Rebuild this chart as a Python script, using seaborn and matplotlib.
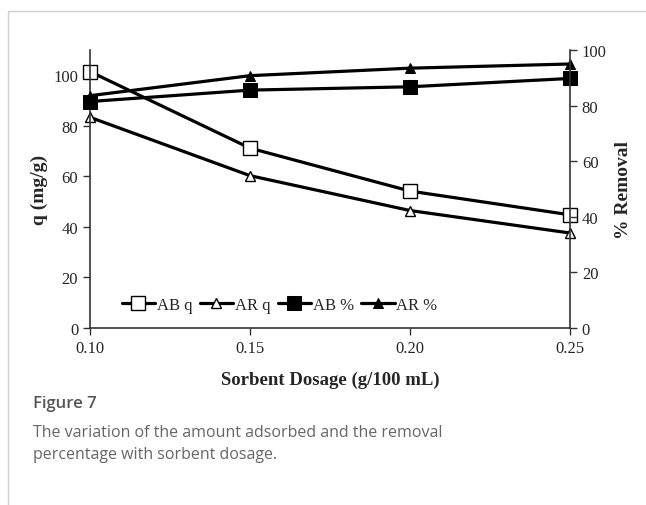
import seaborn as sns
import matplotlib.pyplot as plt
import pandas as pd
from matplotlib.lines import Line2D

# Data
dosage = [0.10, 0.15, 0.20, 0.25]
ab_q = [101.5, 71.2, 54.2, 44.8]
ar_q = [83.4, 60.3, 46.5, 37.6]
ab_pct = [81.5, 85.6, 86.8, 89.8]
ar_pct = [83.6, 90.8, 93.5, 95.0]

df = pd.DataFrame({'dosage': dosage, 'AB q': ab_q, 'AR q': ar_q,
                   'AB %': ab_pct, 'AR %': ar_pct})

sns.set_style('ticks')
plt.rcParams['font.family'] = ['Liberation Serif', 'DejaVu Serif']

fig = plt.figure(figsize=(6.46, 5.06), dpi=100)
ax = fig.add_axes([0.1393, 0.3498, 0.7431, 0.5492])
ax2 = ax.twinx()

lw = 2.3
common = dict(color='black', lw=lw, markeredgecolor='black', legend=False, clip_on=False)
sns.lineplot(x='dosage', y='AB q', data=df, ax=ax, marker='s', markersize=9.5,
             markerfacecolor='white', markeredgewidth=1.0, label='AB q', **common)
sns.lineplot(x='dosage', y='AR q', data=df, ax=ax, marker='^', markersize=7,
             markerfacecolor='white', markeredgewidth=1.0, label='AR q', **common)
sns.lineplot(x='dosage', y='AB %', data=df, ax=ax2, marker='s', markersize=9.5,
             markerfacecolor='black', label='AB %', **common)
sns.lineplot(x='dosage', y='AR %', data=df, ax=ax2, marker='^', markersize=7,
             markerfacecolor='black', label='AR %', **common)

ax.set_xlim(0.10, 0.25)
ax.set_ylim(0, 110)
ax2.set_ylim(0, 100)
ax.set_xticks([0.10, 0.15, 0.20, 0.25])
ax.set_xticklabels(['0.10', '0.15', '0.20', '0.25'])
ax.set_yticks([0, 20, 40, 60, 80, 100])
ax2.set_yticks([0, 20, 40, 60, 80, 100])

for a in (ax, ax2):
    a.spines['top'].set_visible(False)
    for s in a.spines.values():
        s.set_color('#333333')
        s.set_linewidth(1.2)
    a.tick_params(labelsize=12, length=5, width=1.0, color='#333333')
ax.spines['right'].set_visible(False)
ax2.spines['left'].set_visible(False)
ax2.spines['bottom'].set_visible(False)

ax.set_xlabel('Sorbent Dosage (g/100 mL)', fontsize=13.5, fontweight='bold', labelpad=11)
ax.set_ylabel('q (mg/g)', fontsize=14, fontweight='bold', labelpad=4)
ax2.set_ylabel('% Removal', fontsize=14, fontweight='bold', labelpad=6)

h1, l1 = ax.get_legend_handles_labels()
h2, l2 = ax2.get_legend_handles_labels()
ax2.legend(h1 + h2, l1 + l2, loc='lower left', bbox_to_anchor=(0.035, 0.0),
           ncol=4, frameon=False, fontsize=12, handlelength=2.0,
           handletextpad=0.1, columnspacing=0.45)

# card border
fig.add_artist(Line2D([8 / 646, 1], [1 - 12 / 506, 1 - 12 / 506], color='#d0d0d0', lw=1.0))
fig.add_artist(Line2D([8 / 646, 8 / 646], [0, 1 - 12 / 506], color='#d0d0d0', lw=1.0))

fig.text(33 / 646, 1 - 404 / 506, 'Figure 7', fontsize=12, color='#555555',
         family=['Open Sans', 'DejaVu Sans'], fontweight='semibold', va='center')
fig.text(33 / 646, 1 - 433 / 506, 'The variation of the amount adsorbed and the removal',
         fontsize=11.5, color='#666666', family=['Open Sans', 'DejaVu Sans'], va='center')
fig.text(33 / 646, 1 - 455 / 506, 'percentage with sorbent dosage.',
         fontsize=11.5, color='#666666', family=['Open Sans', 'DejaVu Sans'], va='center')

fig.savefig('out.png', dpi=100)
